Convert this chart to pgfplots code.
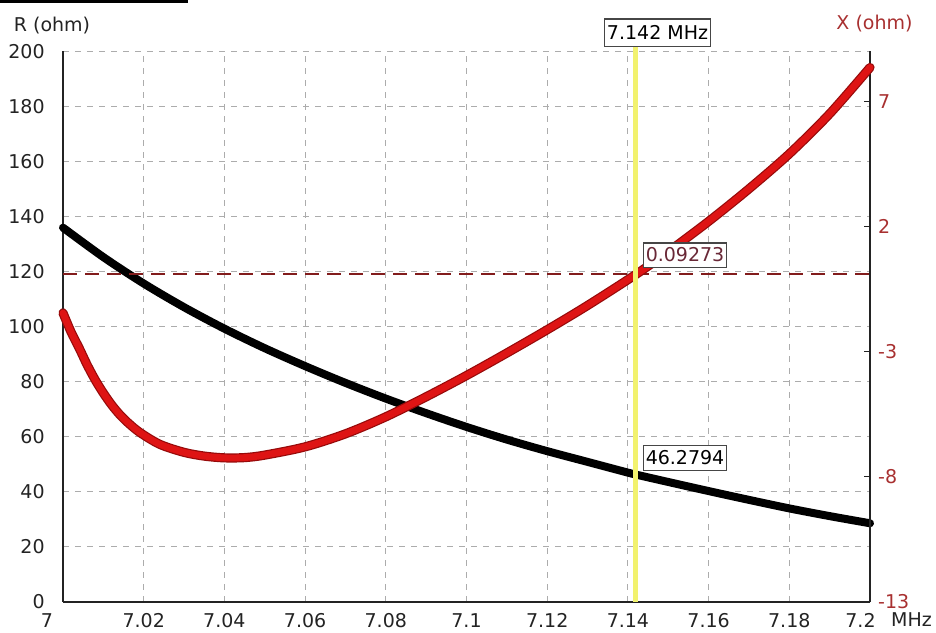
\documentclass[border=0pt]{standalone}
\usepackage{pgfplots}
\pgfplotsset{compat=1.18}
\usepackage{fontspec}
\setmainfont{DejaVu Sans}
\definecolor{gridc}{RGB}{172,172,172}
\definecolor{xred}{RGB}{168,48,48}
\definecolor{curvered}{RGB}{222,20,20}
\definecolor{curveredd}{RGB}{150,10,10}
\definecolor{ylw}{RGB}{242,242,110}
\definecolor{axc}{RGB}{35,35,35}
\definecolor{boxc}{RGB}{70,70,70}
\definecolor{valred}{RGB}{105,40,55}
\definecolor{dashred}{RGB}{130,28,28}
\pgfplotstableread{
x y
7.000 -1.45
7.002 -2.21
7.004 -2.85
7.006 -3.53
7.008 -4.13
7.010 -4.65
7.012 -5.11
7.014 -5.50
7.016 -5.82
7.019 -6.22
7.024 -6.70
7.030 -7.02
7.035 -7.17
7.040 -7.24
7.045 -7.23
7.050 -7.13
7.060 -6.80
7.070 -6.28
7.080 -5.60
7.090 -4.80
7.100 -3.95
7.110 -3.05
7.120 -2.12
7.130 -1.15
7.142 0.09273
7.150 1.00
7.160 2.21
7.170 3.51
7.180 4.91
7.190 6.51
7.200 8.36
}\xdata
\pgfplotstableread{
x y
7.000 136.0
7.010 125.3
7.020 115.7
7.030 107.1
7.040 99.3
7.050 92.2
7.060 85.7
7.070 79.6
7.080 73.9
7.090 68.6
7.100 63.6
7.110 59.0
7.120 54.8
7.130 50.9
7.140 47.0
7.142 46.2794
7.150 43.6
7.160 40.3
7.170 37.1
7.180 34.0
7.190 31.2
7.200 28.6
}\rdata
\begin{document}
\fontsize{9.5}{11}\selectfont
\begin{tikzpicture}
\pgfplotsset{
  base/.style={
    scale only axis, width=403.5pt, height=275.25pt,
    xmin=7, xmax=7.2,
    /pgf/number format/assume math mode=true,
    tick label style={font=\fontsize{9.5}{11}\selectfont},
    clip=false,
  }
}
\begin{axis}[base,
  ymin=0, ymax=200,
  axis x line*=bottom, axis y line*=left,
  axis line style={axc, line width=0.8pt},
  xtick={7,7.02,7.04,7.06,7.08,7.1,7.12,7.14,7.16,7.18,7.2},
  xticklabels={{\makebox[0pt]{7\hspace*{16pt}}},7.02,7.04,7.06,7.08,7.1,7.12,7.14,7.16,7.18,{\makebox[0pt]{7.2\hspace*{9.5pt}}}},
  ytick={0,20,40,60,80,100,120,140,160,180,200},
  grid=major,
  major grid style={gridc, dash pattern=on 3pt off 3pt, line width=0.5pt},
  major tick length=0pt,
  yticklabel style={xshift=-5.8pt, text=axc},
  xticklabel style={yshift=-2.3pt, text=axc},
]
\coordinate (SW) at (rel axis cs:0,0);
\coordinate (NE) at (rel axis cs:1,1);
\addplot[black, line width=4pt, line join=round, line cap=round, smooth, tension=0.5] table {\rdata};
\node[text=axc] at (rel axis cs:-0.0136,1.048) {R (ohm)};
\node[text=axc] at (rel axis cs:1.0514,-0.0327) {MHz};
\end{axis}
\begin{axis}[base,
  ymin=-13, ymax=9,
  axis x line=none, axis y line*=right,
  axis line style={axc, line width=0.8pt},
  ytick={-13,-8,-3,2,7},
  tick align=inside,
  major tick length=3pt,
  tick style={axc, line width=0.6pt},
  yticklabel style={text=xred, xshift=0.7pt},
]
\draw[dashred, line width=1pt, dash pattern=on 7pt off 4pt] (axis cs:7,0.09273) -- (axis cs:7.2,0.09273);
\addplot[curveredd, line width=4.6pt, line join=round, line cap=round, smooth, tension=0.5, forget plot] table {\xdata};
\addplot[curvered, line width=3.4pt, line join=round, line cap=round, smooth, tension=0.5] table {\xdata};
\draw[ylw, line width=2.5pt] (axis cs:7.142,-13) -- (axis cs:7.142,9.18);
\node[draw=boxc, fill=white, line width=0.6pt, inner xsep=1.1pt, inner ysep=3.5pt, text height=6.9pt, text depth=0pt, text=black] at (rel axis cs:0.7367,1.0336) {7.142 MHz};
\node[draw=boxc, fill=white, line width=0.6pt, inner xsep=1.1pt, inner ysep=2.6pt, text height=6.9pt, text depth=0pt, text=valred] at (rel axis cs:0.7708,0.6303) {0.09273};
\node[draw=boxc, fill=white, line width=0.6pt, inner xsep=1.1pt, inner ysep=2.8pt, text height=6.9pt, text depth=0pt, text=black] at (rel axis cs:0.7708,0.2616) {46.2794};
\node[text=xred] at (rel axis cs:1.0056,1.05) {X (ohm)};
\end{axis}
\coordinate (L) at ([xshift=-31.5pt]SW);
\coordinate (T) at ([yshift=25.75pt]NE);
\fill[black] (L |- T) rectangle ++(94pt,-1.6pt);
\pgfresetboundingbox
\path ([shift={(-31.5pt,-15.5pt)}]SW) rectangle ([shift={(33pt,25.75pt)}]NE);
\end{tikzpicture}
\end{document}
